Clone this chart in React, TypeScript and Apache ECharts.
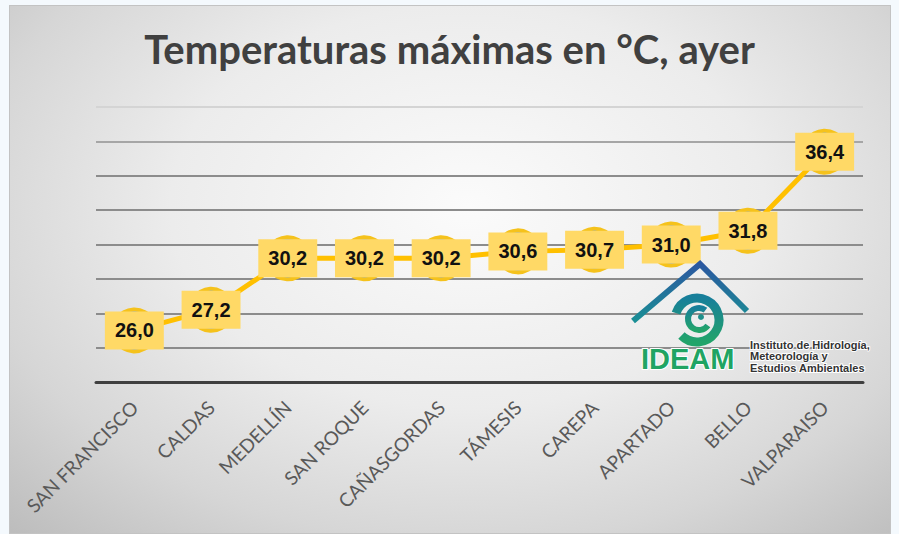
import React, { useEffect, useRef } from "react";
import * as echarts from "echarts";

const categories = [
  "SAN FRANCISCO",
  "CALDAS",
  "MEDELLÍN",
  "SAN ROQUE",
  "CAÑASGORDAS",
  "TÁMESIS",
  "CAREPA",
  "APARTADO",
  "BELLO",
  "VALPARAISO",
];
const temperatures = [26.0, 27.2, 30.2, 30.2, 30.2, 30.6, 30.7, 31.0, 31.8, 36.4];
const titleText = "Temperaturas máximas en °C, ayer";
const logoLines = ["Instituto de Hidrología,", "Meteorología y", "Estudios Ambientales"];

export default function App() {
  const ref = useRef<HTMLDivElement>(null);

  useEffect(() => {
    if (!ref.current) return;
    const chart = echarts.init(ref.current, undefined, { renderer: "svg" });
    const roofGrad = new echarts.graphic.LinearGradient(0, 0, 0, 1, [
      { offset: 0, color: "#2b57a0" },
      { offset: 1, color: "#1a8f95" },
    ]);
    const spiralGrad = new echarts.graphic.LinearGradient(0, 0, 0, 1, [
      { offset: 0, color: "#187f9a" },
      { offset: 1, color: "#22a46a" },
    ]);
    chart.setOption({
      animation: false,
      backgroundColor: "transparent",
      title: {
        text: titleText,
        left: "center",
        top: 24,
        textStyle: {
          fontFamily: "Lato",
          fontWeight: "bold",
          fontSize: 40,
          color: "#404040",
        },
      },
      grid: { left: 96, right: 36, top: 107, bottom: 152 },
      xAxis: {
        type: "category",
        data: categories,
        boundaryGap: true,
        axisLine: { show: true, onZero: false, lineStyle: { color: "#404040", width: 3 } },
        axisTick: { show: false },
        axisLabel: {
          interval: 0,
          rotate: 45,
          margin: 22,
          fontFamily: "Lato",
          fontSize: 19,
          color: "#595959",
        },
      },
      yAxis: {
        type: "value",
        min: 23,
        max: 39,
        interval: 2,
        axisLine: { show: false },
        axisTick: { show: false },
        axisLabel: { show: false },
        splitLine: {
          show: true,
          lineStyle: {
            width: 2,
            color: [
              "#8c8c8c", "#8c8c8c", "#8c8c8c", "#8c8c8c", "#8c8c8c",
              "#8c8c8c", "#8c8c8c", "#a6a6a6", "#d4d4d4",
            ],
          },
        },
      },
      series: [
        {
          type: "line",
          data: temperatures,
          lineStyle: { color: "#ffc000", width: 5 },
          symbol: "circle",
          symbolSize: 42,
          itemStyle: {
            color: "#8ea7bd",
            borderColor: "#f5c21c",
            borderWidth: 4,
          },
          label: {
            show: true,
            position: "inside",
            formatter: (p: any) => p.value.toFixed(1).replace(".", ","),
            backgroundColor: "#ffd966",
            padding: [9, 10],
            lineHeight: 20,
            fontSize: 20,
            fontWeight: "bold",
            fontFamily: "Liberation Sans",
            color: "#111111",
          },
          z: 3,
        },
      ],
      graphic: [
        {
          type: "polyline",
          shape: { points: [[633, 321], [700, 264], [747, 311]] },
          style: { stroke: roofGrad, lineWidth: 6, fill: "none", lineJoin: "miter" },
          z: 10,
        },
        {
          type: "arc",
          shape: { cx: 697, cy: 320, r: 22, startAngle: Math.PI * 1.1, endAngle: Math.PI * 2.75 },
          style: { stroke: spiralGrad, lineWidth: 9, fill: "none" },
          z: 10,
        },
        {
          type: "arc",
          shape: { cx: 699, cy: 319, r: 11, startAngle: Math.PI * 0.2, endAngle: Math.PI * 1.7 },
          style: { stroke: spiralGrad, lineWidth: 6, fill: "none" },
          z: 10,
        },
        {
          type: "circle",
          shape: { cx: 701, cy: 317, r: 3 },
          style: { fill: "#1d8f8a" },
          z: 10,
        },
        {
          type: "text",
          x: 641,
          y: 344,
          style: {
            text: "IDEAM",
            fontFamily: "Liberation Sans",
            fontWeight: "bold",
            fontSize: 29,
            fill: "#1fa463",
            stroke: "#ffffff",
            lineWidth: 2,
          },
          z: 10,
        },
        {
          type: "text",
          x: 750,
          y: 339,
          style: {
            text: logoLines.join("\n"),
            fontFamily: "Liberation Sans",
            fontWeight: "bold",
            fontSize: 11,
            lineHeight: 11.5,
            fill: "#333333",
            stroke: "#ffffff",
            lineWidth: 2,
            lineJoin: "round",
          },
          z: 10,
        },
      ],
    });
    return () => chart.dispose();
  }, []);

  return (
    <div
      style={{
        position: "fixed",
        left: 0,
        top: 0,
        width: 899,
        height: 534,
        background: "#f4f9fd",
        overflow: "hidden",
      }}
    >
      <div
        style={{
          position: "absolute",
          left: 9,
          top: 5,
          width: 880,
          height: 527,
          border: "1px solid #c3c3c3",
          background:
            "radial-gradient(ellipse 75% 85% at 52% 38%, #fbfbfb 0%, #ececec 45%, #d6d6d6 75%, #bdbdbd 100%)",
        }}
      />
      <div ref={ref} style={{ position: "absolute", left: 0, top: 0, width: 899, height: 534 }} />
    </div>
  );
}
